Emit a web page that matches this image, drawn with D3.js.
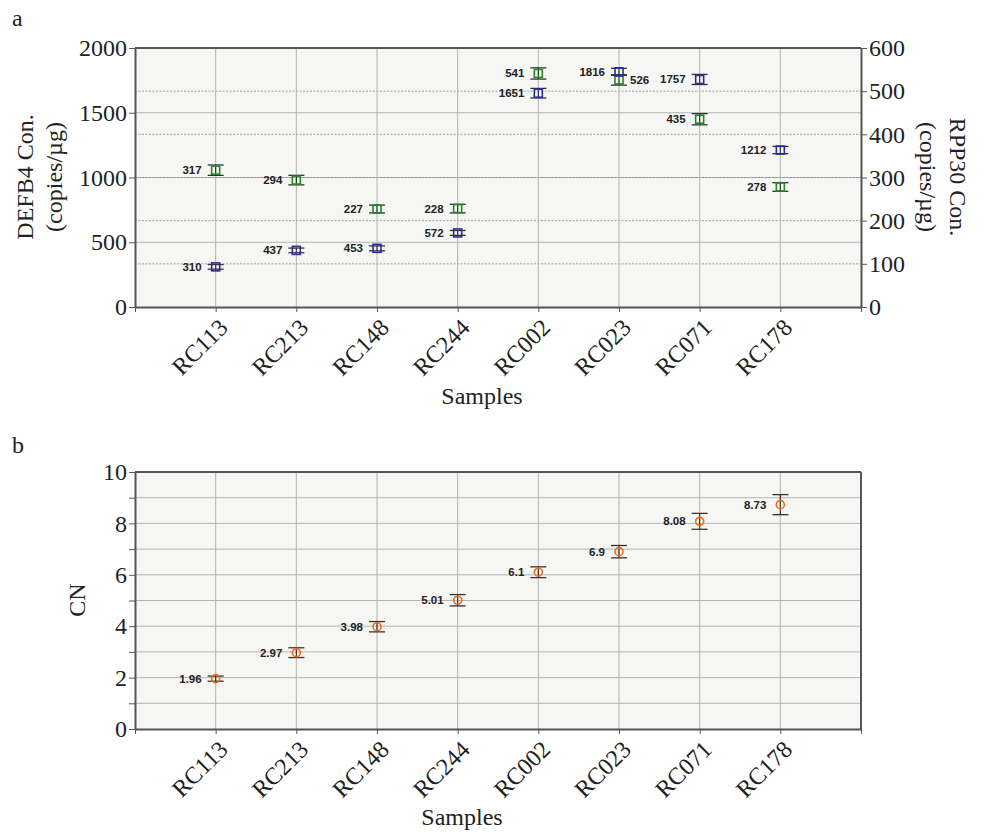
<!DOCTYPE html>
<html>
<head>
<meta charset="utf-8">
<script src="https://cdn.jsdelivr.net/npm/d3@7"></script>
<style>
  body { margin: 0; background: #fff; }
  .axis path, .axis line { stroke: #555; }
  .axis text { font-family: "Liberation Serif", "Times New Roman", serif; font-size: 24px; fill: #222; }
  .lbl { font-family: "Liberation Serif", serif; font-size: 24px; fill: #222; }
  .val { font-family: "Liberation Sans", Arial, sans-serif; font-size: 11.5px; font-weight: bold; fill: #222; }
</style>
</head>
<body>
<script>
// data
var samples = ["RC113", "RC213", "RC148", "RC244", "RC002", "RC023", "RC071", "RC178"];
var defb4 = [310, 437, 453, 572, 1651, 1816, 1757, 1212];
var defb4Err = [18, 18, 19, 19, 37, 27, 39, 28];
var rpp30 = [317, 294, 227, 228, 541, 526, 435, 278];
var rpp30Err = [12, 11, 9, 10, 13, 12, 13, 10];
var cn = [1.96, 2.97, 3.98, 5.01, 6.1, 6.9, 8.08, 8.73];
var cnErr = [0.1, 0.19, 0.2, 0.22, 0.21, 0.24, 0.31, 0.39];
var leftTicks = [0, 500, 1000, 1500, 2000];
var rightTicks = [0, 100, 200, 300, 400, 500, 600];

var W = 984, H = 838;
var svg = d3.select("body").append("svg").attr("width", W).attr("height", H);

var x = d3.scaleLinear().domain([0, 9]).range([135, 861]);
var bg = "#f6f6f4";

function xAxisDraw(g, y0) {
    var ax = g.append("g").attr("class", "axis")
        .attr("transform", "translate(0," + y0 + ")")
        .call(d3.axisBottom(x).tickValues(d3.range(0, 10)).tickSize(5).tickSizeOuter(0)
            .tickFormat(function (i) { return samples[i - 1] || ""; }));
    ax.select(".domain").attr("stroke-width", 2);
    ax.selectAll(".tick text")
        .attr("text-anchor", "end")
        .attr("transform", "translate(7,16) rotate(-45)")
        .attr("dy", "0.35em").attr("y", 0).attr("x", 0);
}

function vgrid(g, y0, y1) {
    g.selectAll(".vg").data(samples).enter().append("line")
        .attr("x1", function (d, i) { return x(i + 1); })
        .attr("x2", function (d, i) { return x(i + 1); })
        .attr("y1", y0).attr("y2", y1)
        .attr("stroke", "#b4b4b4").attr("stroke-width", 1);
}

function errBar(g, cx, lo, hi, cap) {
    g.append("line").attr("x1", cx).attr("x2", cx).attr("y1", lo).attr("y2", hi)
        .attr("stroke", "#333").attr("stroke-width", 1.2);
    [lo, hi].forEach(function (yy) {
        g.append("line").attr("x1", cx - cap).attr("x2", cx + cap).attr("y1", yy).attr("y2", yy)
            .attr("stroke", "#333").attr("stroke-width", 1.3);
    });
}

// ---------- panel a ----------
var topA = 48, botA = 307;
var yL = d3.scaleLinear().domain([0, 2000]).range([botA, topA]);
var yR = d3.scaleLinear().domain([0, 600]).range([botA, topA]);
var ga = svg.append("g");

ga.append("rect").attr("x", 135).attr("y", topA).attr("width", 726).attr("height", botA - topA).attr("fill", bg);
// solid grid at left ticks
ga.selectAll(".hg").data(leftTicks.slice(1, -1)).enter().append("line")
    .attr("x1", 135).attr("x2", 861).attr("y1", yL).attr("y2", yL)
    .attr("stroke", "#b4b4b4");
// dotted grid at right ticks
ga.selectAll(".dg").data(rightTicks.slice(1, -1)).enter().append("line")
    .attr("x1", 135).attr("x2", 861).attr("y1", yR).attr("y2", yR)
    .attr("stroke", "#888").attr("stroke-dasharray", "2,1.5").attr("stroke-width", 0.8);
vgrid(ga, topA, botA);
ga.append("line").attr("x1", 135).attr("x2", 861).attr("y1", topA).attr("y2", topA).attr("stroke", "#555").attr("stroke-width", 2);

var axL = ga.append("g").attr("class", "axis").attr("transform", "translate(135,0)")
    .call(d3.axisLeft(yL).tickValues(leftTicks).tickSize(6).tickSizeOuter(0).tickPadding(2)
        .tickFormat(d3.format("d")));
axL.select(".domain").attr("stroke-width", 2);
var axR = ga.append("g").attr("class", "axis").attr("transform", "translate(861,0)")
    .call(d3.axisRight(yR).tickValues(rightTicks).tickSize(6).tickSizeOuter(0).tickPadding(2));
axR.select(".domain").attr("stroke-width", 2);
xAxisDraw(ga, botA);

// green RPP30 (right axis)
rpp30.forEach(function (v, i) {
    var cx = x(i + 1), cy = yR(v);
    errBar(ga, cx, yR(v - rpp30Err[i]), yR(v + rpp30Err[i]), 8);
    ga.append("rect").attr("x", cx - 4).attr("y", cy - 4).attr("width", 8).attr("height", 8)
        .attr("fill", "none").attr("stroke", "#1f8a1f").attr("stroke-width", 1.6);
    var right = samples[i] === "RC023";
    ga.append("text").attr("class", "val")
        .attr("x", right ? cx + 11 : cx - 14).attr("y", cy + 4)
        .attr("text-anchor", right ? "start" : "end").text(v);
});
// blue DEFB4 (left axis)
defb4.forEach(function (v, i) {
    var cx = x(i + 1), cy = yL(v);
    errBar(ga, cx, yL(v - defb4Err[i]), yL(v + defb4Err[i]), 8);
    ga.append("rect").attr("x", cx - 4).attr("y", cy - 4).attr("width", 8).attr("height", 8)
        .attr("fill", "none").attr("stroke", "#2a2aa6").attr("stroke-width", 1.6);
    ga.append("text").attr("class", "val")
        .attr("x", cx - 14).attr("y", cy + 4)
        .attr("text-anchor", "end").text(v);
});

ga.append("text").attr("class", "lbl").attr("x", 12).attr("y", 26).text("a");
ga.append("text").attr("class", "lbl").attr("text-anchor", "middle")
    .attr("transform", "translate(33,177) rotate(-90)").text("DEFB4 Con.");
ga.append("text").attr("class", "lbl").attr("text-anchor", "middle")
    .attr("transform", "translate(62,177) rotate(-90)").text("(copies/µg)");
ga.append("text").attr("class", "lbl").attr("text-anchor", "middle")
    .attr("transform", "translate(950,177) rotate(90)").text("RPP30 Con.");
ga.append("text").attr("class", "lbl").attr("text-anchor", "middle")
    .attr("transform", "translate(920,177) rotate(90)").text("(copies/µg)");
ga.append("text").attr("class", "lbl").attr("text-anchor", "middle")
    .attr("x", 482).attr("y", 404).text("Samples");

// ---------- panel b ----------
var topB = 472, botB = 729;
var yB = d3.scaleLinear().domain([0, 10]).range([botB, topB]);
var gb = svg.append("g");
gb.append("rect").attr("x", 135).attr("y", topB).attr("width", 726).attr("height", botB - topB).attr("fill", bg);
gb.selectAll(".hg").data(d3.range(1, 10)).enter().append("line")
    .attr("x1", 135).attr("x2", 861).attr("y1", yB).attr("y2", yB)
    .attr("stroke", "#b4b4b4");
vgrid(gb, topB, botB);
gb.append("line").attr("x1", 135).attr("x2", 861).attr("y1", topB).attr("y2", topB).attr("stroke", "#555").attr("stroke-width", 2);
gb.append("line").attr("x1", 861).attr("x2", 861).attr("y1", topB).attr("y2", botB).attr("stroke", "#555").attr("stroke-width", 2);

var axB = gb.append("g").attr("class", "axis").attr("transform", "translate(135,0)")
    .call(d3.axisLeft(yB).tickValues(d3.range(0, 11)).tickSize(6).tickSizeOuter(0).tickPadding(2)
        .tickFormat(function (d) { return d % 2 === 0 ? d : ""; }));
axB.select(".domain").attr("stroke-width", 2);
xAxisDraw(gb, botB);

cn.forEach(function (v, i) {
    var cx = x(i + 1), cy = yB(v);
    errBar(gb, cx, yB(v - cnErr[i]), yB(v + cnErr[i]), 8);
    gb.append("circle").attr("cx", cx).attr("cy", cy).attr("r", 4)
        .attr("fill", "none").attr("stroke", "#f26a10").attr("stroke-width", 1.6);
    gb.append("text").attr("class", "val")
        .attr("x", cx - 14).attr("y", cy + 4)
        .attr("text-anchor", "end").text(v);
});

gb.append("text").attr("class", "lbl").attr("x", 12).attr("y", 453).text("b");
gb.append("text").attr("class", "lbl").attr("text-anchor", "middle")
    .attr("transform", "translate(85,600) rotate(-90)").text("CN");
gb.append("text").attr("class", "lbl").attr("text-anchor", "middle")
    .attr("x", 462).attr("y", 825).text("Samples");
</script>
</body>
</html>
